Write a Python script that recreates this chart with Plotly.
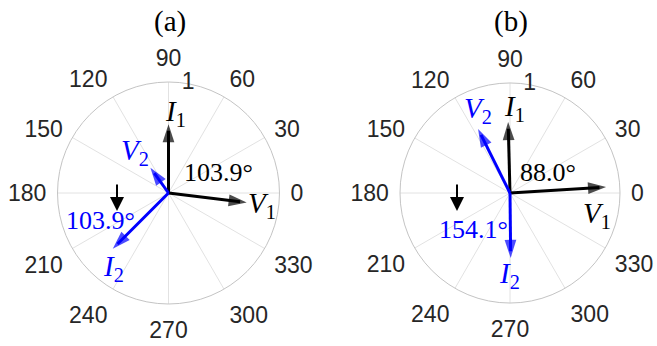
import plotly.graph_objects as go

# Phasor data for the two cases: magnitude (per unit) and angle (degrees)
phasors = ["V1", "I1", "V2", "I2"]
mag_a = [0.71, 0.62, 0.28, 0.71]
ang_a = [-7.0, 90.0, 125.6, 225.0]
mag_b = [0.875, 0.645, 0.65, 0.59]
ang_b = [3.5, 91.5, 116.5, 270.6]
colors = ["#000000", "#000000", "#0000ff", "#0000ff"]

angle_ticks = list(range(0, 360, 30))
radial_ticks = [1]

SERIF = "Liberation Serif"
SANS = "Liberation Sans"
W, H = 657, 346

fig = go.Figure()


def add_phasors(mags, angs, subplot):
    for m, a, c in zip(mags, angs, colors):
        # shaft stops just short of the tip so the head stays sharp
        fig.add_trace(go.Scatterpolar(
            r=[0, m - 0.06], theta=[0, a], mode="lines",
            line=dict(color=c, width=3), subplot=subplot,
            showlegend=False, hoverinfo="skip"))
        fig.add_trace(go.Scatterpolar(
            r=[0, m], theta=[0, a], mode="markers",
            marker=dict(symbol="arrow", size=[0, 19], color=c,
                        angleref="previous", line=dict(width=0)),
            subplot=subplot, showlegend=False, hoverinfo="skip"))


add_phasors(mag_a, ang_a, "polar")
add_phasors(mag_b, ang_b, "polar2")

# radial tick text padded so it sits just right of the 90° spoke
radial_text = ["\u2007" + str(v) for v in radial_ticks]


def polar_layout(xd, yd):
    return dict(
        domain=dict(x=xd, y=yd),
        bgcolor="white",
        radialaxis=dict(range=[0, 1], tickvals=radial_ticks,
                        ticktext=radial_text,
                        angle=90, tickangle=90, side="clockwise",
                        showline=False, ticks="", showgrid=False,
                        tickfont=dict(family=SANS, size=23, color="#262626")),
        angularaxis=dict(direction="counterclockwise", rotation=0,
                         tickvals=angle_ticks,
                         ticktext=[str(v) for v in angle_ticks],
                         showline=True, linecolor="#c4c4c4", linewidth=1,
                         gridcolor="#e2e2e2", gridwidth=1,
                         ticks="outside", ticklen=6,
                         tickcolor="rgba(0,0,0,0)",
                         tickfont=dict(family=SANS, size=23, color="#262626")),
    )


fig.update_layout(
    width=W, height=H,
    margin=dict(l=0, r=0, t=0, b=0),
    paper_bgcolor="white",
    polar=polar_layout([57.5 / W, 279.5 / W], [42 / H, 264 / H]),
    polar2=polar_layout([400 / W, 620 / W], [43 / H, 263 / H]),
)


def label(x, y, text, color="#000000", size=29):
    fig.add_annotation(x=x / W, y=1 - y / H, xref="paper", yref="paper",
                       text=text, showarrow=False, xanchor="center",
                       yanchor="middle",
                       font=dict(family=SERIF, size=size, color=color))


# subplot titles
label(170, 21, "(a)", size=29)
label(511, 21, "(b)", size=29)

# case (a) labels
label(175, 113, "<i>I</i><sub>1</sub>")
label(262, 205, "<i>V</i><sub>1</sub>")
label(135, 152, "<i>V</i><sub>2</sub>", "#0000ff")
label(113, 268, "<i>I</i><sub>2</sub>", "#0000ff")
label(218, 172, "103.9°", size=26)
label(100, 220, "103.9°", "#0000ff", size=26)

# case (b) labels
label(514, 108, "<i>I</i><sub>1</sub>")
label(597, 215, "<i>V</i><sub>1</sub>")
label(478, 110, "<i>V</i><sub>2</sub>", "#0000ff")
label(509, 275, "<i>I</i><sub>2</sub>", "#0000ff")
label(548, 172, "88.0°", size=26)
label(473, 230, "154.1°", "#0000ff", size=26)

# small downward markers
for x0 in (117, 457):
    fig.add_annotation(x=x0 / W, y=1 - 211 / H, xref="paper", yref="paper",
                       ax=0, ay=-28, axref="pixel", ayref="pixel",
                       showarrow=True, arrowhead=2, arrowsize=1.4,
                       arrowwidth=2, arrowcolor="#000000", text="")

fig.write_html("out.html")
